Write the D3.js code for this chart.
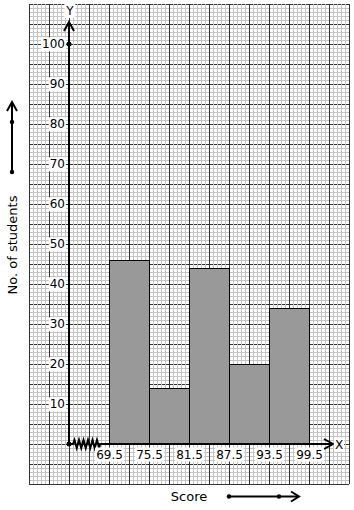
<!DOCTYPE html>
<html><head><meta charset="utf-8">
<script src="https://cdn.jsdelivr.net/npm/d3@7"></script>
<style>body{margin:0;background:#fff}svg{display:block}text{font-family:"DejaVu Sans",sans-serif}</style>
</head><body>
<script>
const classEdges = [69.5, 75.5, 81.5, 87.5, 93.5, 99.5];
const frequencies = [46, 14, 44, 20, 34];
const yTicks = [10, 20, 30, 40, 50, 60, 70, 80, 90, 100];
const xTitle = "Score";
const yTitle = "No. of students";

const W = 354, H = 510;
const svg = d3.select("body").append("svg").attr("width", W).attr("height", H);

const x = d3.scaleLinear().domain([69.5, 99.5]).range([109, 309]);
const y = d3.scaleLinear().domain([0, 100]).range([444, 44]);
const ox = 69, oy = 444;

// graph paper
const gx0 = 29, gx1 = 349, gy0 = 4, gy1 = 484;
const g = svg.append("g").attr("shape-rendering", "crispEdges");
for (let yy = gy0; yy <= gy1; yy += 20) g.append("line").attr("x1", gx0).attr("x2", gx1).attr("y1", yy + 0.5).attr("y2", yy + 0.5).attr("stroke", "#333");
for (let xx = gx0; xx <= gx1; xx += 4) if ((xx - gx0) % 20) g.append("line").attr("x1", xx + 0.5).attr("x2", xx + 0.5).attr("y1", gy0).attr("y2", gy1).attr("stroke", "#c4c4c4");
for (let yy = gy0; yy <= gy1; yy += 4) if ((yy - gy0) % 20) g.append("line").attr("x1", gx0).attr("x2", gx1).attr("y1", yy + 0.5).attr("y2", yy + 0.5).attr("stroke", "#c4c4c4");
for (let xx = gx0; xx <= gx1; xx += 20) g.append("line").attr("x1", xx + 0.5).attr("x2", xx + 0.5).attr("y1", gy0).attr("y2", gy1).attr("stroke", "#333");

// bars
const bars = frequencies.map((f, i) => ({x0: classEdges[i], x1: classEdges[i + 1], f}));
svg.append("g").selectAll("rect").data(bars).join("rect")
  .attr("x", d => x(d.x0) + 0.5).attr("y", d => y(d.f) + 0.5)
  .attr("width", d => x(d.x1) - x(d.x0)).attr("height", d => y(0) - y(d.f))
  .attr("fill", "#999").attr("stroke", "#000").attr("stroke-width", 1);

// axes lines
const ax = svg.append("g").attr("stroke", "#000").attr("stroke-width", 2).attr("fill", "none");
ax.append("line").attr("x1", ox).attr("x2", ox).attr("y1", oy).attr("y2", 23);
ax.append("path").attr("d", `M${ox-5},31 L${ox},22 L${ox+5},31`);
ax.append("path").attr("d", `M${ox},${oy} L73,${oy} ` + d3.range(6).map(i => `L${74.5+i*4.5},${oy-4} L${76.75+i*4.5},${oy+4}`).join(" ") + ` L100,${oy} L333,${oy}`);
ax.append("path").attr("d", `M${324},${oy-5} L333,${oy} L${324},${oy+5}`);
svg.append("circle").attr("cx", ox).attr("cy", oy).attr("r", 2.5);
svg.append("circle").attr("cx", ox).attr("cy", y(100)).attr("r", 2.5);

function addBg(sel) {
  sel.each(function () {
    const b = this.getBBox();
    d3.select(this.parentNode).insert("rect", ":first-child").attr("x", b.x - 1).attr("y", b.y).attr("width", b.width + 2).attr("height", b.height).attr("fill", "#fff");
  });
}

// y axis labels
const yAx = svg.append("g").attr("transform", `translate(${ox},0)`)
  .call(d3.axisLeft(y).tickValues(yTicks).tickSize(0).tickPadding(4).tickFormat(d3.format("d")));
yAx.select(".domain").remove();
yAx.selectAll("text").attr("font-size", 12).attr("fill", "#000").attr("font-family", "DejaVu Sans");
addBg(yAx.selectAll("text"));

// x axis labels
const xAx = svg.append("g").attr("transform", `translate(0,${oy})`)
  .call(d3.axisBottom(x).tickValues(classEdges).tickSize(0).tickPadding(6).tickFormat(d3.format(".1f")));
xAx.select(".domain").remove();
xAx.selectAll("text").attr("font-size", 12).attr("fill", "#000").attr("font-family", "DejaVu Sans");
addBg(xAx.selectAll("text"));

// axis letters
const letters = [{t: "X", x: 339, y: oy + 4.5}, {t: "Y", x: 70, y: 15}];
letters.forEach(L => {
  const lg = svg.append("g");
  const t = lg.append("text").attr("x", L.x).attr("y", L.y).attr("font-size", 12).attr("text-anchor", "middle").text(L.t);
  addBg(t);
});

// titles
svg.append("text").attr("x", 189).attr("y", 501).attr("font-size", 13).attr("text-anchor", "middle").text(xTitle);
svg.append("text").attr("transform", "translate(17,245) rotate(-90)").attr("font-size", 13).attr("text-anchor", "middle").text(yTitle);

// title arrows
const ta = svg.append("g").attr("stroke", "#000").attr("stroke-width", 2).attr("fill", "none");
ta.append("line").attr("x1", 229).attr("x2", 299).attr("y1", 496.5).attr("y2", 496.5);
ta.append("path").attr("d", "M291,491.5 L299,496.5 L291,501.5");
svg.append("circle").attr("cx", 229).attr("cy", 496.5).attr("r", 2.2);
svg.append("circle").attr("cx", 279).attr("cy", 496.5).attr("r", 2.2);
ta.append("line").attr("x1", 12).attr("x2", 12).attr("y1", 172).attr("y2", 103);
ta.append("path").attr("d", "M7,111 L12,102 L17,111");
svg.append("circle").attr("cx", 12).attr("cy", 172).attr("r", 2.2);
svg.append("circle").attr("cx", 12).attr("cy", 122).attr("r", 2.2);
</script>
</body></html>
